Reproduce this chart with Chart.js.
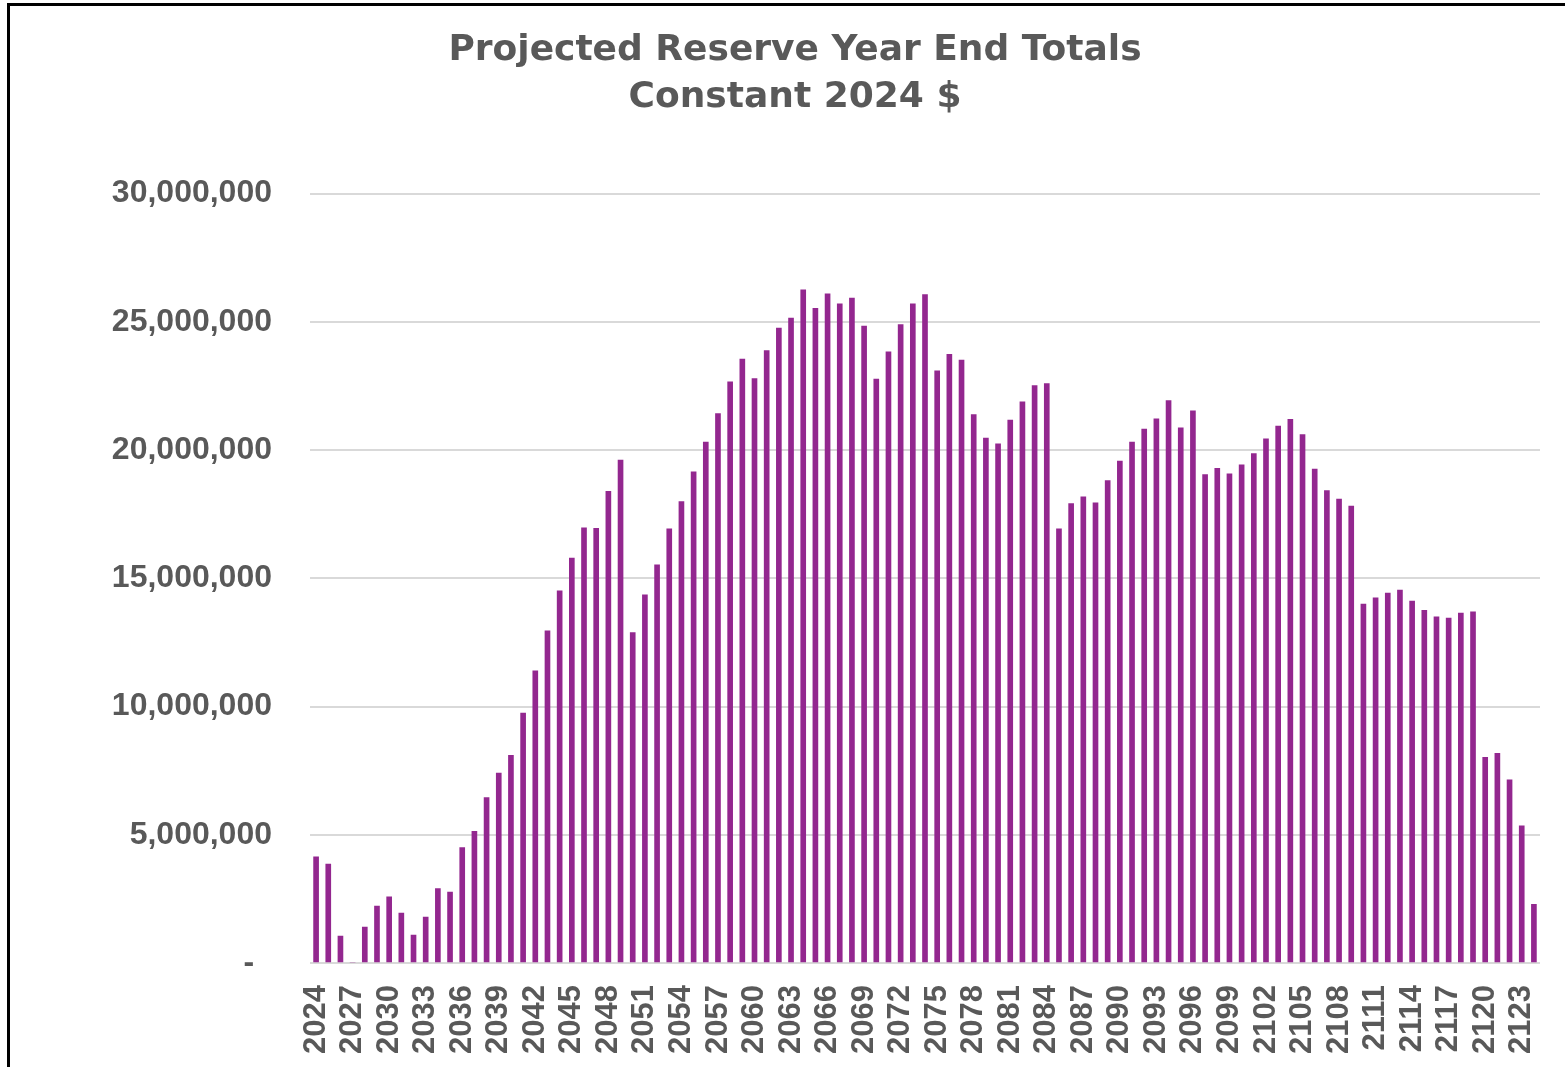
<!DOCTYPE html>
<html lang="en">
<head>
    <meta charset="UTF-8">
    <title>Projected Reserve Year End Totals</title>
    <script src="https://cdn.jsdelivr.net/npm/chart.js"></script>
    <style>
        body {
            margin: 0;
            background: #ffffff;
        }
        .wrap {
            position: relative;
            width: 1565px;
            height: 1067px;
            overflow: hidden;
        }
        .frame {
            position: absolute;
            left: 7px;
            top: 3px;
            width: 1600px;
            height: 1100px;
            border-top: 3px solid #000;
            border-left: 3px solid #000;
            pointer-events: none;
        }
        canvas {
            position: absolute;
            left: 0;
            top: 0;
        }
    </style>
</head>
<body>
    <div class="wrap">
        <canvas id="reserveChart" width="1565" height="1067"></canvas>
        <div class="frame"></div>
    </div>

    <script>
        // Titolo su due righe
        const titleLines = ['Projected Reserve Year End Totals', 'Constant 2024 $'];

        // Anni 2024 - 2124 (etichetta ogni 3 anni)
        const years = [];
        for (let y = 2024; y <= 2124; y++) {
            years.push(String(y));
        }

        // Saldo di fine anno (dollari costanti 2024)
        const reserves = [
            4140000, 3860000, 1050000, 0, 1400000, 2220000, 2580000, 1950000, 1090000, 1790000,
            2900000, 2770000, 4500000, 5140000, 6450000, 7410000, 8100000, 9750000, 11390000, 12950000,
            14510000, 15790000, 16970000, 16950000, 18390000, 19610000, 12880000, 14360000, 15530000, 16930000,
            17990000, 19150000, 20310000, 21420000, 22660000, 23550000, 22790000, 23880000, 24760000, 25150000,
            26250000, 25530000, 26090000, 25700000, 25930000, 24830000, 22770000, 23830000, 24890000, 25700000,
            26060000, 23090000, 23730000, 23510000, 21380000, 20470000, 20240000, 21170000, 21880000, 22510000,
            22590000, 16930000, 17910000, 18180000, 17940000, 18810000, 19570000, 20310000, 20820000, 21220000,
            21930000, 20870000, 21530000, 19040000, 19290000, 19070000, 19420000, 19860000, 20440000, 20940000,
            21200000, 20600000, 19260000, 18420000, 18090000, 17820000, 14000000, 14240000, 14420000, 14540000,
            14110000, 13750000, 13500000, 13450000, 13640000, 13690000, 8020000, 8180000, 7140000, 5350000,
            2290000
        ];

        // Scala asse Y
        const yMin = 0;
        const yMax = 30000000;
        const yStep = 5000000;

        const textColor = '#595959';
        const gridColor = '#d9d9d9';
        const barColor = '#93278f';

        new Chart(document.getElementById('reserveChart').getContext('2d'), {
            type: 'bar',
            data: {
                labels: years,
                datasets: [{
                    label: 'Reserve',
                    data: reserves,
                    backgroundColor: barColor,
                    borderWidth: 0,
                    barThickness: 5
                }]
            },
            options: {
                responsive: false,
                animation: false,
                layout: {
                    padding: { left: 50, right: 25, top: 0, bottom: -1 }
                },
                plugins: {
                    legend: { display: false },
                    tooltip: { enabled: false },
                    title: {
                        display: true,
                        text: titleLines,
                        color: textColor,
                        font: { family: 'DejaVu Sans', weight: 'bold', size: 36, lineHeight: 1.3 },
                        padding: { top: 27, bottom: 73 }
                    }
                },
                scales: {
                    x: {
                        grid: { display: false },
                        border: { display: false },
                        afterFit: scale => { scale.paddingRight = 0; },
                        ticks: {
                            autoSkip: false,
                            maxRotation: 90,
                            minRotation: 90,
                            padding: 14,
                            color: textColor,
                            font: { family: 'Liberation Sans', weight: 'bold', size: 31 },
                            callback: (value, index) => index % 3 === 0 ? years[index] : ''
                        }
                    },
                    y: {
                        min: yMin,
                        max: yMax,
                        border: { display: false },
                        grid: { color: gridColor, lineWidth: 2, drawTicks: false },
                        afterFit: scale => { scale.width = 260; },
                        ticks: {
                            stepSize: yStep,
                            padding: 38,
                            color: textColor,
                            font: { family: 'Liberation Sans', weight: 'bold', size: 32 },
                            callback: value => value === 0 ? '-  ' : value.toLocaleString('en-US')
                        }
                    }
                }
            }
        });
    </script>
</body>
</html>
